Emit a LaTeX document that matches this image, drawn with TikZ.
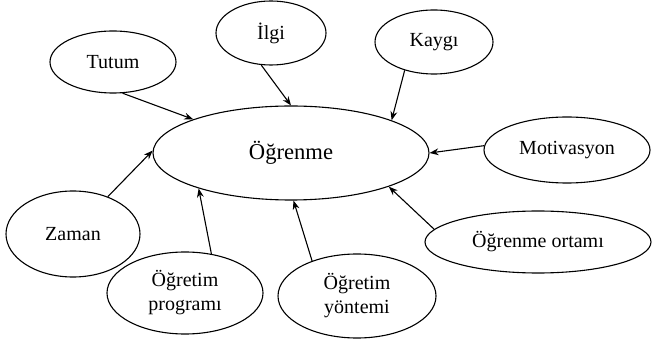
\documentclass[tikz,border=0pt]{standalone}
\usepackage{fontspec}
\setmainfont{Liberation Serif}
\usetikzlibrary{shapes.geometric,arrows.meta}
\begin{document}
\begin{tikzpicture}[x=0.5pt,y=-0.5pt,
  oval/.style={ellipse,draw,line width=0.55pt,inner sep=0pt,align=center,
    font=\fontsize{10}{12}\selectfont},
  arr/.style={line width=0.55pt,-{Stealth[length=4.5pt,width=3.4pt]}}]
\useasboundingbox (0,0) rectangle (652,341);
\node[oval,minimum width=276pt/2,minimum height=94pt/2,font=\fontsize{11.3}{13}\selectfont] (c) at (291,153) {Öğrenme};
\node[oval,minimum width=126pt/2,minimum height=62pt/2] (tutum) at (113,62) {Tutum};
\node[oval,minimum width=110pt/2,minimum height=64pt/2] (ilgi) at (271,33) {İlgi};
\node[oval,minimum width=118pt/2,minimum height=64pt/2] (kaygi) at (434,42) {Kaygı};
\node[oval,minimum width=166pt/2,minimum height=66pt/2] (motiv) at (567,150) {Motivasyon};
\node[oval,minimum width=134pt/2,minimum height=86pt/2] (zaman) at (73,234) {Zaman};
\node[oval,minimum width=156pt/2,minimum height=82pt/2] (prog) at (185,293) {Öğretim\\programı};
\node[oval,minimum width=158pt/2,minimum height=84pt/2] (yont) at (357,296) {Öğretim\\yöntemi};
\node[oval,minimum width=226pt/2,minimum height=62pt/2] (ortam) at (538,242) {Öğrenme ortamı};
\draw[arr] (tutum.-73.8) -- (c.161.6);
\draw[arr] (ilgi.-107.4) -- (c.90);
\draw[arr] (kaygi.-136.8) -- (c.18.8);
\draw[arr] (motiv.177) -- (c.0);
\draw[arr] (zaman.47.4) -- (c.179.5);
\draw[arr] (prog.56) -- (c.-159.8);
\draw[arr] (yont.142.3) -- (c.-87.7);
\draw[arr] (ortam.173.5) -- (c.-19.8);
\end{tikzpicture}
\end{document}
